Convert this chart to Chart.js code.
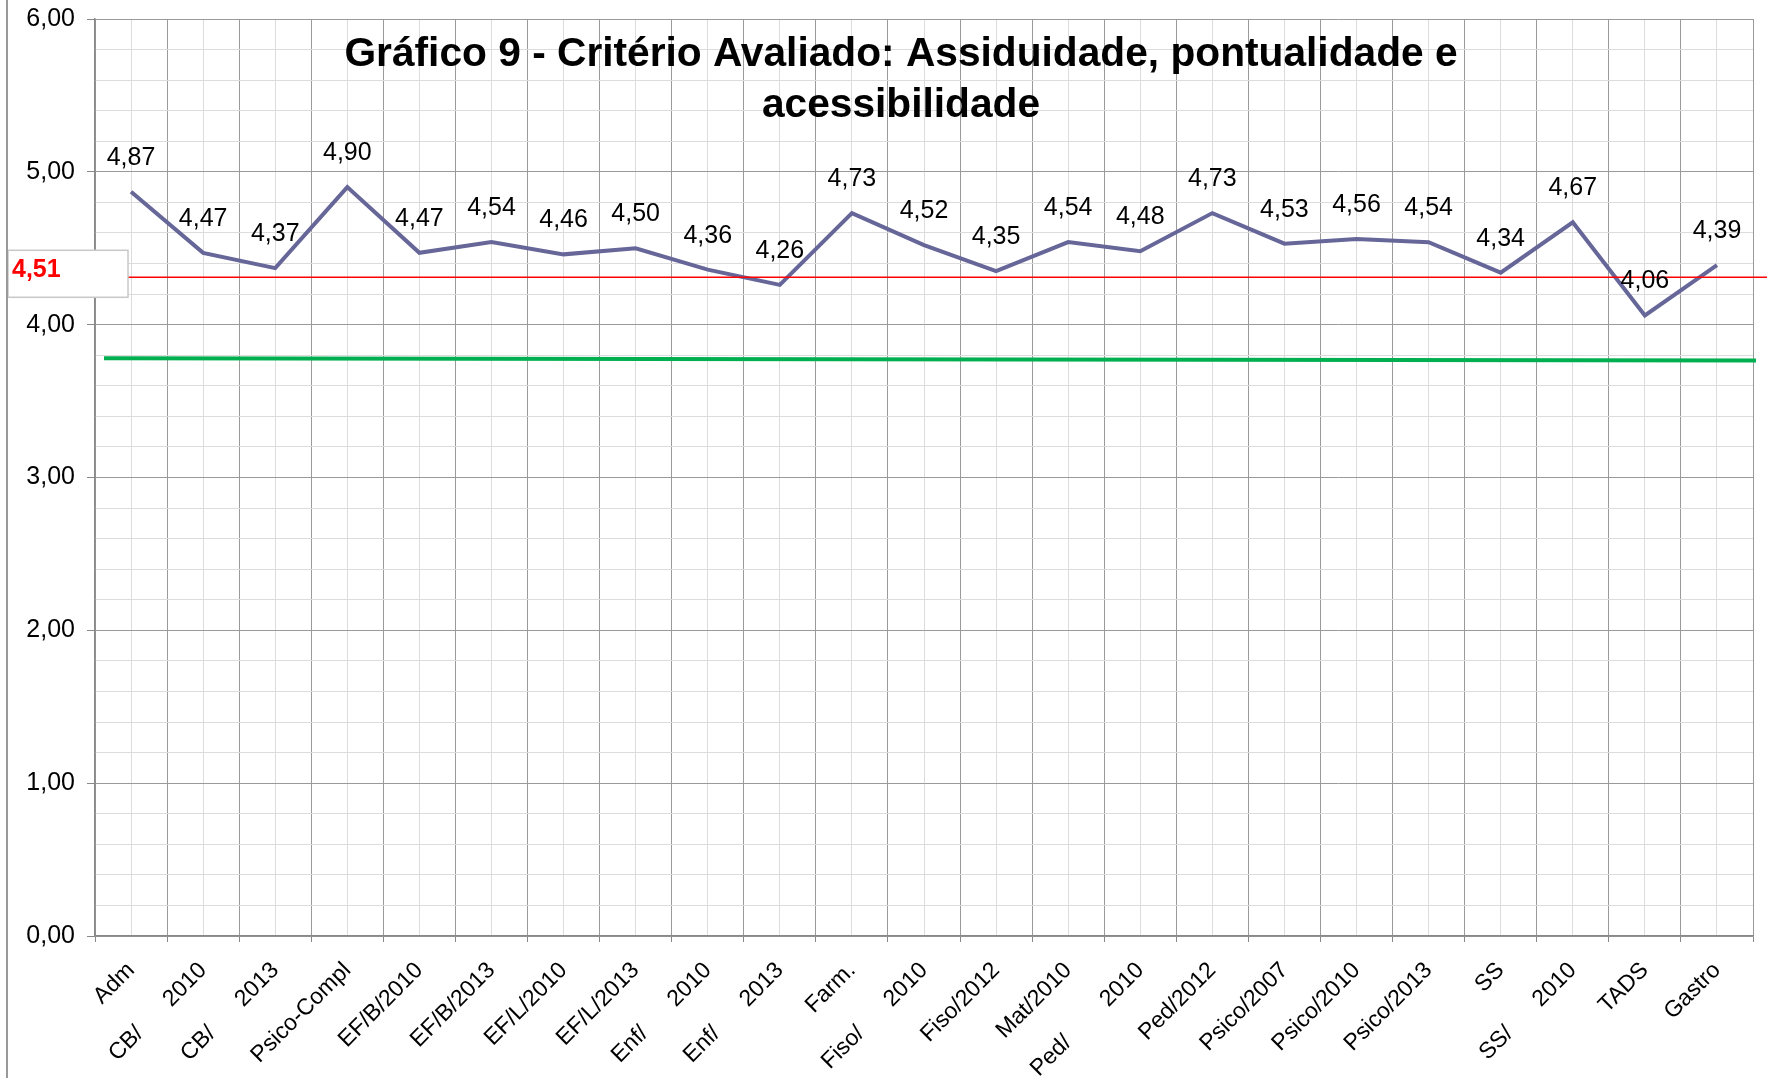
<!DOCTYPE html>
<html>
<head>
<meta charset="utf-8">
<title>Gráfico 9</title>
<script src="https://cdn.jsdelivr.net/npm/chart.js@4.4.1/dist/chart.umd.min.js"></script>
<style>
  html, body { margin: 0; padding: 0; background: #fff; }
  canvas { display: block; }
</style>
</head>
<body>
<canvas id="grafico9" width="1767" height="1078"></canvas>
<script>
// dados
const cursos = [
  'Adm', 'CB/      2010', 'CB/      2013', 'Psico-Compl', 'EF/B/2010', 'EF/B/2013',
  'EF/L/2010', 'EF/L/2013', 'Enf/      2010', 'Enf/      2013', 'Farm.', 'Fiso/      2010',
  'Fiso/2012', 'Mat/2010', 'Ped/        2010', 'Ped/2012', 'Psico/2007', 'Psico/2010',
  'Psico/2013', 'SS', 'SS/      2010', 'TADS', 'Gastro'
];
const notas = [
  4.87, 4.47, 4.37, 4.90, 4.47, 4.54, 4.46, 4.50, 4.36, 4.26, 4.73, 4.52,
  4.35, 4.54, 4.48, 4.73, 4.53, 4.56, 4.54, 4.34, 4.67, 4.06, 4.39
];
const titulo = ['Gráfico 9 - Critério Avaliado: Assiduidade, pontualidade e', 'acessibilidade'];
const mediaTexto = '4,51';
const mediaLinha = 4.31;          // altura em que a linha vermelha foi desenhada
const referenciaLinha = [3.78, 3.765]; // linha verde (início, fim)
const eixoY = { min: 0, max: 6, passo: 1, passoMenor: 0.2 };

const fonte = "'Liberation Sans', Arial, sans-serif";
Chart.defaults.font.family = fonte;

const ehPrincipal = v => Math.abs(v / eixoY.passo - Math.round(v / eixoY.passo)) < 1e-6;
const virgula = v => v.toFixed(2).replace('.', ',');

const extras = {
  id: 'extras',
  afterDatasetsDraw(chart) {
    const { ctx, chartArea, scales: { y } } = chart;
    ctx.save();

    // linha verde
    ctx.strokeStyle = '#00B050';
    ctx.lineWidth = 4;
    ctx.beginPath();
    ctx.moveTo(chartArea.left + 9, y.getPixelForValue(referenciaLinha[0]));
    ctx.lineTo(chartArea.right + 3, y.getPixelForValue(referenciaLinha[1]));
    ctx.stroke();

    // linha vermelha (média)
    const py = y.getPixelForValue(mediaLinha);
    ctx.strokeStyle = '#FF0000';
    ctx.lineWidth = 1.5;
    ctx.beginPath();
    ctx.moveTo(128, py);
    ctx.lineTo(chart.width, py);
    ctx.stroke();

    // rótulos dos pontos
    const meta = chart.getDatasetMeta(0);
    ctx.fillStyle = '#000';
    ctx.font = '25px ' + fonte;
    ctx.textAlign = 'center';
    ctx.textBaseline = 'middle';
    meta.data.forEach((pt, i) => {
      ctx.fillText(virgula(notas[i]), pt.x, pt.y - 34);
    });

    // caixa da média
    ctx.fillStyle = '#fff';
    ctx.strokeStyle = '#c8c8c8';
    ctx.lineWidth = 1.5;
    ctx.fillRect(8, py - 27, 120, 47);
    ctx.strokeRect(8, py - 27, 120, 47);
    ctx.fillStyle = '#FF0000';
    ctx.font = 'bold 25px ' + fonte;
    ctx.textAlign = 'left';
    ctx.fillText(mediaTexto, 12, py - 7);
    ctx.restore();
  },
  afterDraw(chart) {
    const { ctx } = chart;
    ctx.save();
    ctx.fillStyle = '#000';
    ctx.font = 'bold 40.7px ' + fonte;
    ctx.textAlign = 'center';
    ctx.textBaseline = 'alphabetic';
    ctx.fillText(titulo[0], 901, 66);
    ctx.fillText(titulo[1], 901, 117);

    ctx.strokeStyle = '#999';
    ctx.lineWidth = 2;
    ctx.beginPath();
    ctx.moveTo(7, 0);
    ctx.lineTo(7, chart.height);
    ctx.stroke();
    ctx.restore();
  }
};

new Chart(document.getElementById('grafico9'), {
  type: 'line',
  data: {
    labels: cursos,
    datasets: [{
      data: notas,
      borderColor: '#666699',
      borderWidth: 4,
      pointRadius: 0,
      tension: 0,
      fill: false
    }]
  },
  options: {
    responsive: false,
    animation: false,
    layout: { padding: { left: 0, right: 14, top: 19, bottom: 0 } },
    plugins: { legend: { display: false }, tooltip: { enabled: false } },
    scales: {
      x: {
        type: 'category',
        offset: true,
        afterFit(s) { s.height = 142; s.paddingLeft = 0; s.paddingRight = 0; },
        grid: { offset: true, color: '#9a9a9a', tickLength: 6, tickColor: '#888' },
        border: { color: '#888', width: 1.5 },
        ticks: {
          autoSkip: false, maxRotation: 45, minRotation: 45, padding: 15,
          color: '#000', font: { size: 23 }
        }
      },
      x2: {
        type: 'category',
        position: 'bottom',
        offset: true,
        z: -1,
        afterFit(s) { s.height = 0; s.paddingLeft = 0; s.paddingRight = 0; },
        grid: { offset: false, color: '#dcdcdc', drawTicks: false },
        border: { display: false },
        ticks: { display: false }
      },
      y: {
        min: eixoY.min,
        max: eixoY.max,
        afterFit(s) { s.width = 95; s.paddingTop = 0; s.paddingBottom = 0; },
        ticks: {
          stepSize: eixoY.passoMenor,
          maxTicksLimit: 40,
          autoSkip: false,
          padding: 12,
          color: '#000',
          font: { size: 25 },
          callback: v => ehPrincipal(v) ? virgula(v) : ''
        },
        grid: {
          color: c => ehPrincipal(c.tick.value) ? '#9a9a9a' : '#dcdcdc',
          tickColor: c => ehPrincipal(c.tick.value) ? '#888' : 'rgba(0,0,0,0)',
          tickLength: 8
        },
        border: { color: '#888', width: 1.5 }
      }
    }
  },
  plugins: [extras]
});
</script>
</body>
</html>
